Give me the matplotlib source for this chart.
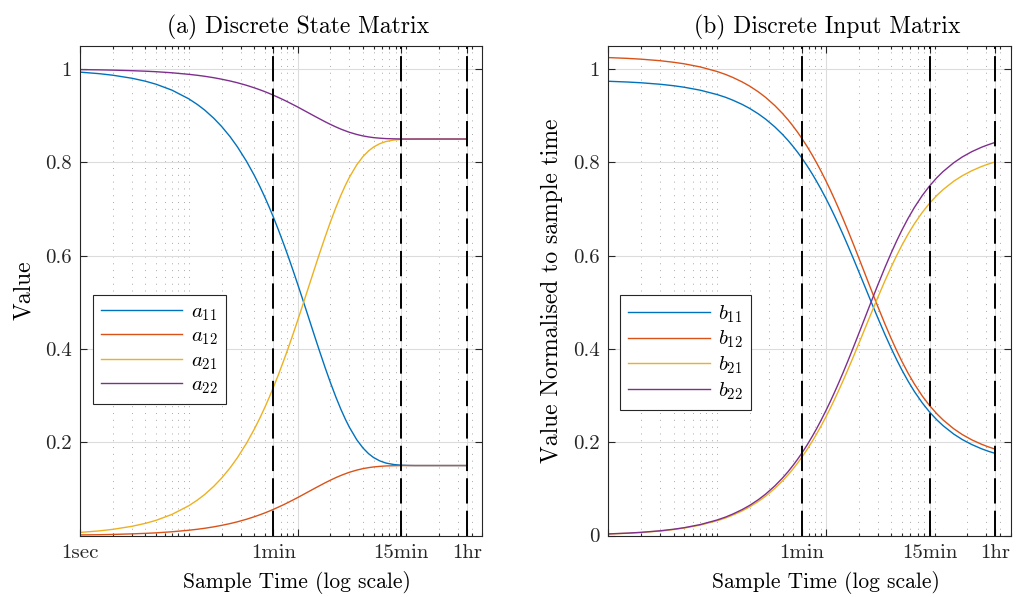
import numpy as np
import matplotlib
matplotlib.use("Agg")
import matplotlib.pyplot as plt
from matplotlib.ticker import FixedLocator, FixedFormatter, NullFormatter

plt.rcParams['font.family'] = ['cmr10', 'DejaVu Serif']
plt.rcParams['mathtext.fontset'] = 'cm'
plt.rcParams['axes.unicode_minus'] = False

# sample times in seconds
t = [1, 1.5, 2, 3, 4, 5, 7, 10, 12, 14, 17, 20, 24, 28, 34, 40, 45, 50, 55, 60,
     67, 75, 82, 90, 100, 110, 120, 130, 145, 160, 180, 200, 225, 250, 275, 300,
     350, 400, 450, 500, 570, 650, 770, 900, 1050, 1200, 1500, 1800, 2200, 2700,
     3100, 3600]

# discrete state matrix entries
a11 = [0.9934, 0.9901, 0.9868, 0.9803, 0.9739, 0.9675, 0.9548, 0.9362, 0.9240, 0.9121,
       0.8944, 0.8772, 0.8549, 0.8332, 0.8020, 0.7722, 0.7484, 0.7255, 0.7035, 0.6823,
       0.6540, 0.6235, 0.5984, 0.5713, 0.5396, 0.5104, 0.4834, 0.4584, 0.4243, 0.3940,
       0.3588, 0.3286, 0.2970, 0.2709, 0.2495, 0.2319, 0.2054, 0.1875, 0.1754, 0.1672,
       0.1600, 0.1553, 0.1521, 0.1508, 0.1502, 0.1500, 0.1500, 0.1500, 0.1500, 0.1500,
       0.1500, 0.1500]
a12 = [0.0012, 0.0017, 0.0023, 0.0035, 0.0046, 0.0057, 0.0080, 0.0113, 0.0134, 0.0155,
       0.0186, 0.0217, 0.0256, 0.0294, 0.0349, 0.0402, 0.0444, 0.0484, 0.0523, 0.0561,
       0.0611, 0.0664, 0.0709, 0.0757, 0.0812, 0.0864, 0.0912, 0.0956, 0.1016, 0.1069,
       0.1132, 0.1185, 0.1241, 0.1287, 0.1324, 0.1356, 0.1402, 0.1434, 0.1455, 0.1470,
       0.1482, 0.1491, 0.1496, 0.1499, 0.1500, 0.1500, 0.1500, 0.1500, 0.1500, 0.1500,
       0.1500, 0.1500]
a21 = [0.0066, 0.0099, 0.0132, 0.0197, 0.0261, 0.0325, 0.0452, 0.0638, 0.0760, 0.0879,
       0.1056, 0.1228, 0.1451, 0.1668, 0.1980, 0.2278, 0.2516, 0.2745, 0.2965, 0.3177,
       0.3460, 0.3765, 0.4016, 0.4287, 0.4604, 0.4896, 0.5166, 0.5416, 0.5757, 0.6060,
       0.6412, 0.6714, 0.7030, 0.7291, 0.7505, 0.7681, 0.7946, 0.8125, 0.8246, 0.8328,
       0.8400, 0.8447, 0.8479, 0.8492, 0.8498, 0.8500, 0.8500, 0.8500, 0.8500, 0.8500,
       0.8500, 0.8500]
a22 = [0.9988, 0.9983, 0.9977, 0.9965, 0.9954, 0.9943, 0.9920, 0.9887, 0.9866, 0.9845,
       0.9814, 0.9783, 0.9744, 0.9706, 0.9651, 0.9598, 0.9556, 0.9516, 0.9477, 0.9439,
       0.9389, 0.9336, 0.9291, 0.9243, 0.9188, 0.9136, 0.9088, 0.9044, 0.8984, 0.8931,
       0.8868, 0.8815, 0.8759, 0.8713, 0.8676, 0.8644, 0.8598, 0.8566, 0.8545, 0.8530,
       0.8518, 0.8509, 0.8504, 0.8501, 0.8500, 0.8500, 0.8500, 0.8500, 0.8500, 0.8500,
       0.8500, 0.8500]

# discrete input matrix entries, divided by the sample time
b11 = [0.9738, 0.9722, 0.9706, 0.9674, 0.9642, 0.9610, 0.9547, 0.9454, 0.9394, 0.9332,
       0.9243, 0.9155, 0.9039, 0.8926, 0.8760, 0.8599, 0.8469, 0.8342, 0.8218, 0.8098,
       0.7934, 0.7753, 0.7600, 0.7432, 0.7232, 0.7041, 0.6858, 0.6684, 0.6439, 0.6209,
       0.5928, 0.5670, 0.5379, 0.5118, 0.4884, 0.4673, 0.4309, 0.4010, 0.3761, 0.3552,
       0.3312, 0.3093, 0.2845, 0.2647, 0.2479, 0.2353, 0.2175, 0.2057, 0.1950, 0.1860,
       0.1809, 0.1761]
b12 = [1.0246, 1.0229, 1.0212, 1.0179, 1.0145, 1.0112, 1.0046, 0.9948, 0.9884, 0.9819,
       0.9725, 0.9633, 0.9511, 0.9392, 0.9217, 0.9048, 0.8912, 0.8777, 0.8647, 0.8520,
       0.8348, 0.8157, 0.7997, 0.7820, 0.7609, 0.7408, 0.7216, 0.7033, 0.6775, 0.6534,
       0.6237, 0.5966, 0.5660, 0.5385, 0.5139, 0.4916, 0.4534, 0.4219, 0.3957, 0.3737,
       0.3484, 0.3255, 0.2993, 0.2786, 0.2609, 0.2476, 0.2289, 0.2164, 0.2051, 0.1957,
       0.1903, 0.1853]
b21 = [0.0032, 0.0048, 0.0064, 0.0096, 0.0128, 0.0160, 0.0223, 0.0316, 0.0376, 0.0438,
       0.0527, 0.0615, 0.0731, 0.0844, 0.1010, 0.1171, 0.1301, 0.1428, 0.1552, 0.1672,
       0.1836, 0.2017, 0.2170, 0.2338, 0.2538, 0.2729, 0.2912, 0.3086, 0.3331, 0.3561,
       0.3842, 0.4100, 0.4391, 0.4652, 0.4886, 0.5098, 0.5461, 0.5760, 0.6009, 0.6218,
       0.6458, 0.6677, 0.6925, 0.7123, 0.7291, 0.7417, 0.7595, 0.7713, 0.7820, 0.7910,
       0.7961, 0.8009]
b22 = [0.0034, 0.0051, 0.0068, 0.0101, 0.0135, 0.0168, 0.0234, 0.0332, 0.0396, 0.0461,
       0.0555, 0.0647, 0.0769, 0.0888, 0.1063, 0.1232, 0.1368, 0.1503, 0.1633, 0.1760,
       0.1932, 0.2123, 0.2283, 0.2460, 0.2671, 0.2872, 0.3064, 0.3247, 0.3505, 0.3746,
       0.4043, 0.4314, 0.4620, 0.4895, 0.5141, 0.5364, 0.5746, 0.6061, 0.6323, 0.6543,
       0.6796, 0.7026, 0.7287, 0.7494, 0.7671, 0.7804, 0.7991, 0.8116, 0.8229, 0.8323,
       0.8376, 0.8427]

x_ticks = [1, 60, 100, 900, 3600]
x_labels_a = ['1sec', '1min', '', '15min', '1hr']
x_labels_b = ['', '1min', '', '15min', '1hr']
marks = [60, 900, 3600]  # 1min, 15min, 1hr

colors = ['#0072BD', '#D95319', '#EDB120', '#7E2F8E']
axcol = '#262626'


def style_axis(ax, xlabels, yticks, ylabels):
    ax.set_xscale('log')
    ax.set_xlim(1, 5000)
    ax.set_ylim(0, 1.05)
    ax.xaxis.set_major_locator(FixedLocator(x_ticks))
    ax.xaxis.set_major_formatter(FixedFormatter(xlabels))
    minors = [k * 10 ** n for n in range(4) for k in range(1, 10)
              if k * 10 ** n not in x_ticks and k * 10 ** n <= 5000]
    ax.xaxis.set_minor_locator(FixedLocator(minors))
    ax.xaxis.set_minor_formatter(NullFormatter())
    ax.set_yticks(yticks)
    ax.set_yticklabels(ylabels)
    ax.tick_params(which='both', direction='in', top=True, right=True,
                   colors=axcol, labelsize=15, width=0.8)
    ax.tick_params(which='major', length=5, pad=6)
    ax.tick_params(which='minor', length=2.5)
    ax.grid(True, which='major', color='#dcdcdc', lw=0.8, ls='-')
    ax.grid(True, which='minor', axis='x', color='#a8a8a8', lw=0.7,
            ls=(0, (1, 6)))
    ax.set_axisbelow(True)
    for s in ax.spines.values():
        s.set_color(axcol)
        s.set_linewidth(0.8)
    ax.set_xlabel('Sample Time (log scale)', fontsize=15.5, labelpad=7, x=0.54)


fig = plt.figure(figsize=(10.18, 5.97), dpi=100)
ax1 = fig.add_axes([0.0786, 0.103, 0.3952, 0.8204])
ax2 = fig.add_axes([0.5975, 0.103, 0.3952, 0.8204])

# (a) state matrix
for y, c, name in zip([a11, a12, a21, a22], colors, ['11', '12', '21', '22']):
    ax1.plot(t, y, color=c, lw=1.0, label=r'$a_{%s}$' % name)
for m in marks:
    ax1.axvline(m, color='k', lw=1.4, dashes=[13, 3.7])
style_axis(ax1, x_labels_a, [0.2, 0.4, 0.6, 0.8, 1.0],
           ['0.2', '0.4', '0.6', '0.8', '1'])
ax1.set_ylabel('Value', fontsize=17, labelpad=7)
ax1.set_title('(a) Discrete State Matrix', fontsize=17, pad=9, x=0.542)

# (b) input matrix
for y, c, name in zip([b11, b12, b21, b22], colors, ['11', '12', '21', '22']):
    ax2.plot(t, y, color=c, lw=1.0, label=r'$b_{%s}$' % name)
for m in marks:
    ax2.axvline(m, color='k', lw=1.4, dashes=[13, 3.7])
style_axis(ax2, x_labels_b, [0, 0.2, 0.4, 0.6, 0.8, 1.0],
           ['0', '0.2', '0.4', '0.6', '0.8', '1'])
ax2.set_ylabel('Value Normalised to sample time', fontsize=17, labelpad=7)
ax2.set_title('(b) Discrete Input Matrix', fontsize=17, pad=9, x=0.543)

for ax, anchor in [(ax1, (0.032, 0.268)), (ax2, (0.029, 0.256))]:
    leg = ax.legend(loc='lower left', bbox_to_anchor=anchor, fontsize=15,
                    handlelength=3.9, frameon=True, fancybox=False,
                    framealpha=1, edgecolor=axcol, borderaxespad=0,
                    labelspacing=0.2, handletextpad=0.4, borderpad=0.4)
    leg.get_frame().set_linewidth(0.8)
    leg.set_zorder(5)

fig.savefig('out.png', dpi=100)
